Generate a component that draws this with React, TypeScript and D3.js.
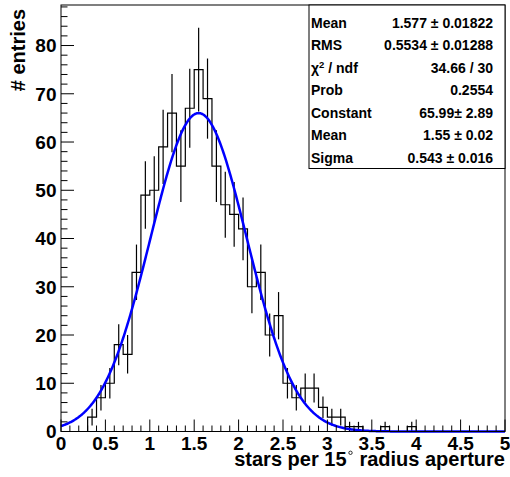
import React from "react";
import * as d3 from "d3";

// Histogram: 50 bins of width 0.1 from 0 to 5
const binEdgesStart = 0;
const binWidth = 0.1;
const counts = [
  0, 0, 0, 3, 7, 10, 18, 16, 33, 49,
  50, 59, 66, 55, 67, 75, 69, 55, 47, 45,
  42, 30, 33, 20, 24, 10, 7, 9, 9, 5,
  3, 3, 1, 1, 0, 0, 1, 0, 0, 1,
  0, 0, 0, 0, 0, 0, 0, 0, 0, 0,
];

// Gaussian fit parameters (Constant, Mean, Sigma)
const fitConstant = 65.99;
const fitMean = 1.55;
const fitSigma = 0.543;

const xTickLabels = ["0", "0.5", "1", "1.5", "2", "2.5", "3", "3.5", "4", "4.5", "5"];
const yTickLabels = ["0", "10", "20", "30", "40", "50", "60", "70", "80"];

const statLabels = ["Mean", "RMS", "CHI", "Prob", "Constant", "Mean", "Sigma"];
const statValues = [
  "1.577 \u00b1 0.01822",
  "0.5534 \u00b1 0.01288",
  "34.66 / 30",
  "0.2554",
  "65.99\u00b1 2.89",
  "1.55 \u00b1 0.02",
  "0.543 \u00b1 0.016",
];

const W = 510;
const H = 477;
const FL = 61, FR = 505, FT = 5, FB = 431.5;
const FONT = "'Liberation Sans', Arial, Helvetica, sans-serif";

export default function App() {
  const x = d3.scaleLinear().domain([0, 5]).range([FL, FR]);
  const y = d3.scaleLinear().domain([0, 88.4]).range([FB, FT]);

  // step outline
  let d = `M${x(binEdgesStart)},${y(0)}`;
  counts.forEach((c, i) => {
    const x0 = x(binEdgesStart + i * binWidth);
    const x1 = x(binEdgesStart + (i + 1) * binWidth);
    d += `L${x0},${y(c)}L${x1},${y(c)}`;
  });
  d += `L${x(5)},${y(0)}`;

  const gauss = (v: number) =>
    fitConstant * Math.exp(-0.5 * Math.pow((v - fitMean) / fitSigma, 2));
  const pts = d3.range(0, 5.0001, 0.01).map((v) => [v, gauss(v)] as [number, number]);
  const curve = d3
    .line<[number, number]>()
    .x((p) => x(p[0]))
    .y((p) => y(p[1]))(pts) as string;

  const xMinor = d3.range(0, 51).map((i) => i * 0.1);
  const yMinor = d3.range(0, 45).map((i) => i * 2);

  return (
    <svg
      width={W}
      height={H}
      style={{ position: "absolute", left: 0, top: 0, background: "#fff" }}
      fontFamily={FONT}
      fontWeight="bold"
    >
      <rect x={0} y={0} width={W} height={H} fill="#fff" />
      {/* histogram */}
      <path d={d} fill="none" stroke="#000" strokeWidth={1.2} />
      {counts.map((c, i) =>
        c > 0 ? (
          <line
            key={"e" + i}
            x1={x(binEdgesStart + (i + 0.5) * binWidth)}
            x2={x(binEdgesStart + (i + 0.5) * binWidth)}
            y1={y(c - Math.sqrt(c))}
            y2={y(c + Math.sqrt(c))}
            stroke="#000"
            strokeWidth={1.2}
          />
        ) : null
      )}
      {/* fit */}
      <path d={curve} fill="none" stroke="#0000ff" strokeWidth={2.5} />
      {/* frame */}
      <rect x={FL} y={FT} width={FR - FL} height={FB - FT} fill="none" stroke="#000" strokeWidth={1} />
      {/* x ticks */}
      {xMinor.map((v, i) => (
        <line
          key={"xt" + i}
          x1={x(v)}
          x2={x(v)}
          y1={FB}
          y2={FB - (i % 5 === 0 ? 12 : 6)}
          stroke="#000"
          strokeWidth={1}
        />
      ))}
      {xTickLabels.map((t, i) => (
        <text key={"xl" + i} x={x(i * 0.5)} y={450} fontSize={19} textAnchor="middle">
          {t}
        </text>
      ))}
      {/* y ticks */}
      {yMinor.map((v, i) => (
        <line
          key={"yt" + i}
          x1={FL}
          x2={FL + (i % 5 === 0 ? 13 : 6.5)}
          y1={y(v)}
          y2={y(v)}
          stroke="#000"
          strokeWidth={1}
        />
      ))}
      {yTickLabels.map((t, i) => (
        <text key={"yl" + i} x={56.5} y={y(i * 10)} dy="0.36em" fontSize={19} textAnchor="end">
          {t}
        </text>
      ))}
      {/* axis titles */}
      <text
        transform="translate(25,9) rotate(-90)"
        fontSize={20}
        textAnchor="end"
      >
        # entries
      </text>
      <text x={346.5} y={465.5} fontSize={20} textAnchor="end">
        stars per 15
      </text>
      <circle cx={350.5} cy={452.8} r={1.7} fill="none" stroke="#000" strokeWidth={0.8} />
      <text x={505} y={465.5} fontSize={20} textAnchor="end">
        radius aperture
      </text>
      {/* stats box */}
      <rect x={309} y={FT} width={FR - 309} height={168.5 - FT} fill="#fff" stroke="#000" strokeWidth={1} />
      {statLabels.map((l, i) => (
        <text key={"sl" + i} x={311} y={27.5 + i * 22.5} fontSize={14}>
          {l === "CHI" ? (
            <>
              {"\u03c7"}
              <tspan fontSize={9.5} dy={-5}>2</tspan>
              <tspan dy={5}>{" / ndf"}</tspan>
            </>
          ) : (
            l
          )}
        </text>
      ))}
      {statValues.map((v, i) => (
        <text key={"sv" + i} x={493} y={27.5 + i * 22.5} fontSize={14} textAnchor="end">
          {v}
        </text>
      ))}
    </svg>
  );
}
